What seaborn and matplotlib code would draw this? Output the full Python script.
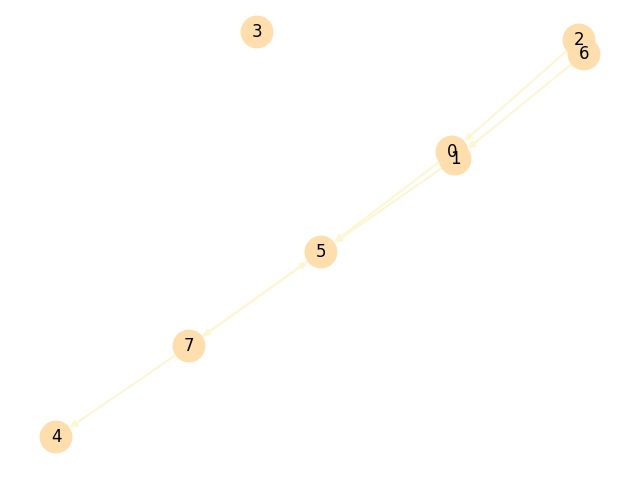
import matplotlib
matplotlib.use("Agg")
import matplotlib.pyplot as plt
import seaborn as sns
import pandas as pd

# node positions (pixel coords)
nodes = ["0", "1", "2", "3", "4", "5", "6", "7"]
xs = [452, 455, 579, 257, 56, 321, 584, 189]
ys = [152, 159, 40, 32, 437, 252, 54, 346]
edges = [("2", "0"), ("6", "1"), ("0", "5"), ("1", "5"),
         ("5", "7"), ("7", "5"), ("7", "4")]

df = pd.DataFrame({"node": nodes, "x": xs, "y": ys})
pos = {n: (x, y) for n, x, y in zip(nodes, xs, ys)}

fig = plt.figure(figsize=(6.4, 4.8), dpi=100)
ax = fig.add_axes([0, 0, 1, 1])
ax.set_xlim(0, 640)
ax.set_ylim(480, 0)
ax.axis("off")

for a, b in edges:
    ax.annotate("", xy=pos[b], xytext=pos[a],
                arrowprops=dict(arrowstyle="-|>", color="#fdf6d3", lw=1.5,
                                shrinkA=12, shrinkB=12, mutation_scale=10),
                zorder=1)

sns.scatterplot(data=df, x="x", y="y", s=560, color="#ffdead",
                edgecolor="none", ax=ax, zorder=2, legend=False)
for n, x, y in zip(nodes, xs, ys):
    ax.text(x, y, n, ha="center", va="center", fontsize=12, zorder=3)

fig.savefig("out.png")
